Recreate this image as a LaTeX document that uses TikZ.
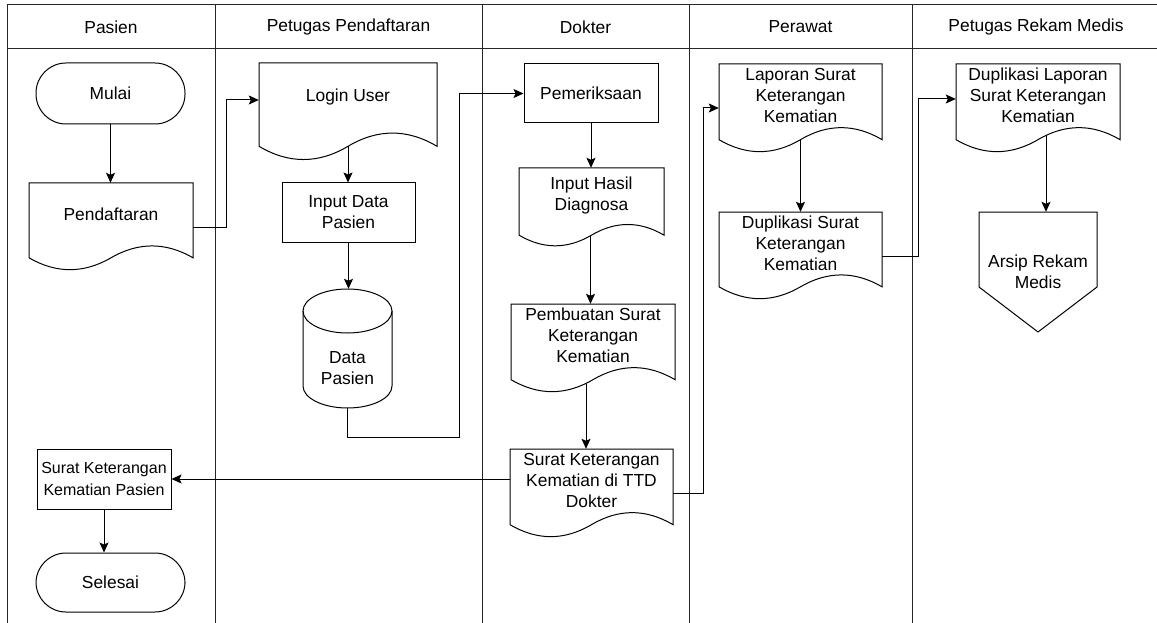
\documentclass[tikz,border=0pt]{standalone}
\usepackage{fontspec}
\setmainfont{Liberation Sans}
\usetikzlibrary{arrows.meta,calc}

\tikzset{
  ln/.style={line width=1pt, draw=black},
  arr/.style={line width=1pt, draw=black, -{Stealth[length=10pt,width=9pt,inset=2pt]}},
  lane/.style={line width=1pt, draw=black!85},
  hdr/.style={font=\fontsize{17.4}{21}\selectfont, inner sep=0pt},
  txt/.style={font=\fontsize{17.4}{21}\selectfont, align=center, inner sep=0pt},
  smalltxt/.style={font=\fontsize{16}{21.5}\selectfont, align=center, inner sep=0pt},
  boxnode/.style={ln, rectangle, inner sep=0pt},
  termnode/.style={ln, rectangle, rounded corners=30pt, inner sep=0pt},
  ghost/.style={rectangle, inner sep=0pt, draw=none},
}

% document shape: name, x1, y1, x2, y2, text
\newcommand\docnode[6]{%
  \node[ghost, minimum width={(#4-#2)*1pt}, minimum height={(#5-#3)*1pt}] (#1) at ({(#2+#4)/2},{(#3+#5)/2}) {};
  \draw[ln] (#2,#3) -- (#4,#3) -- (#4,{#3+0.85*(#5-#3)})
    .. controls ({#2+0.8333*(#4-#2)},{#3+0.67*(#5-#3)}) and ({#2+0.6667*(#4-#2)},{#3+0.67*(#5-#3)}) .. ({(#2+#4)/2},{#3+0.85*(#5-#3)})
    .. controls ({#2+0.3333*(#4-#2)},{#3+1.03*(#5-#3)}) and ({#2+0.1667*(#4-#2)},{#3+1.03*(#5-#3)}) .. (#2,{#3+0.85*(#5-#3)}) -- cycle;
  \node[txt] (#1t) at ({(#2+#4)/2},{#3+0.35*(#5-#3)}) {#6};
}

\begin{document}
\begin{tikzpicture}[x=1pt, y=-1pt]
\useasboundingbox (0,0) rectangle (1157,623);

% swimlanes
\draw[lane] (7,623) -- (7,5) -- (1157,5);
\draw[lane] (7,49) -- (1157,49);
\foreach \xx in {215,482,689,912} { \draw[lane] (\xx,5) -- (\xx,623); }

\node[hdr] (h1) at (111,27) {Pasien};
\node[hdr] (h2) at (348.5,27) {Petugas Pendaftaran};
\node[hdr] (h3) at (585.5,27) {Dokter};
\node[hdr] (h4) at (800.5,27) {Perawat};
\node[hdr] (h5) at (1036,27) {Petugas Rekam Medis};

% Pasien lane
\node[termnode, txt, minimum width=149pt, minimum height=61pt] (mulai) at (110.5,93.5) {Mulai};
\docnode{pend}{29}{183}{193}{271}{Pendaftaran}
\node[boxnode, smalltxt, minimum width=134pt, minimum height=60pt] (skk) at (104,479) {Surat Keterangan\\Kematian Pasien};
\node[termnode, txt, minimum width=149pt, minimum height=59pt] (selesai) at (110.5,582.5) {Selesai};

% Petugas Pendaftaran lane
\docnode{login}{259}{63}{437}{161}{Login User}
\node[boxnode, txt, minimum width=133pt, minimum height=59pt] (inp) at (348.5,212.5) {Input Data\\Pasien};
\node[ghost, minimum width=89pt, minimum height=119pt] (data) at (347.5,348.5) {};
\draw[ln] (347.5,311) ellipse [x radius=44.5pt, y radius=22pt];
\draw[ln] (303,311) -- (303,386) arc[start angle=180, end angle=360, x radius=44.5pt, y radius=22pt] -- (392,311);
\node[txt] (datat) at (347.5,368) {Data\\Pasien};

% Dokter lane
\node[boxnode, txt, minimum width=134pt, minimum height=59pt] (pem) at (591,93.5) {Pemeriksaan};
\docnode{ihd}{519}{168}{664}{247}{Input Hasil\\Diagnosa}
\docnode{pemb}{511}{304}{675}{393}{Pembuatan Surat\\Keterangan\\Kematian}
\docnode{ttd}{510}{449}{673}{538}{Surat Keterangan\\Kematian di TTD\\Dokter}

% Perawat lane
\docnode{lap}{719}{64}{882}{153}{Laporan Surat\\Keterangan\\Kematian}
\docnode{dups}{719}{212}{882}{300}{Duplikasi Surat\\Keterangan\\Kematian}

% Petugas Rekam Medis lane
\docnode{duplap}{956}{64}{1120}{153}{Duplikasi Laporan\\Surat Keterangan\\Kematian}
\node[ghost, minimum width=118pt, minimum height=120pt] (arsip) at (1038,272) {};
\draw[ln] (979,212) -- (1097,212) -- (1097,287) -- (1038,332) -- (979,287) -- cycle;
\node[txt] (arsipt) at (1038,272) {Arsip Rekam\\Medis};

% connectors
\draw[arr] (mulai.south) -- (pend.north -| mulai.south);

\coordinate (j1) at (226,100);
\draw[arr] (pend.east) -| (j1) -- (j1 -| login.west);

\coordinate (a0) at ($(login.north)!0.85!(login.south)$);
\draw[arr] (a0) -- (a0 |- inp.north);
\draw[arr] (inp.south) -- (inp.south |- data.north);

\coordinate (j2) at (459,437);
\draw[arr] (data.south) |- (j2) |- (pem.west);

\draw[arr] (pem.south) -- (pem.south |- ihd.north);
\coordinate (a1) at ($(ihd.north)!0.85!(ihd.south)+(-1,1)$);
\draw[arr] (a1) -- (a1 |- pemb.north);
\coordinate (a2) at ($(pemb.north)!0.85!(pemb.south)+(-7,4)$);
\draw[arr] (a2) -- (a2 |- ttd.north);

\draw[arr] (skk.east -| ttd.west) -- (skk.east);
\draw[arr] (skk.south) -- (skk.south |- selesai.north);

\coordinate (j3) at (703,108);
\draw[arr] (ttd.east) -| (j3) -- (j3 -| lap.west);

\coordinate (a3) at ($(lap.north)!0.85!(lap.south)$);
\draw[arr] (a3) -- (a3 |- dups.north);

\coordinate (j4) at (918,99);
\draw[arr] (dups.east) -| (j4) -- (j4 -| duplap.west);

\coordinate (a4) at ($(duplap.north)!0.85!(duplap.south)+(8,-4.5)$);
\draw[arr] (a4) -- (a4 |- arsip.north);

\end{tikzpicture}
\end{document}
